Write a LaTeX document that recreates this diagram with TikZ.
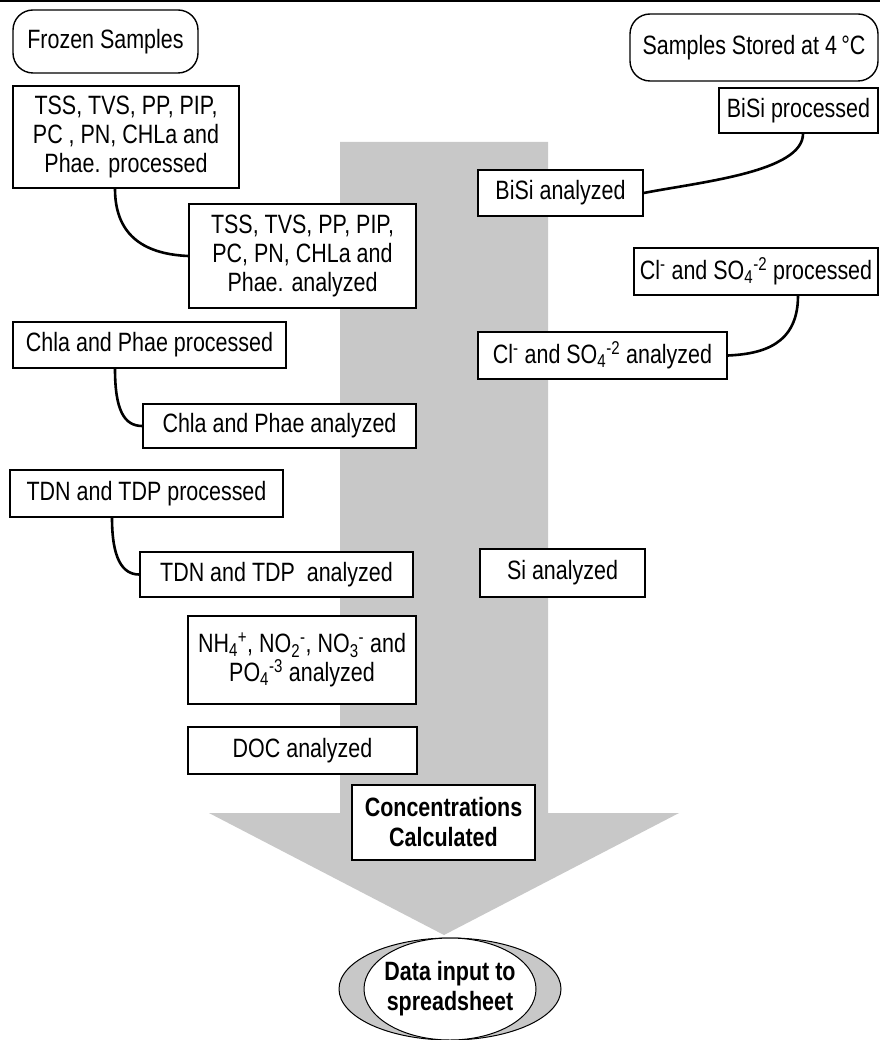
\documentclass[tikz,border=0pt]{standalone}
\usepackage{fontspec}
\setmainfont{Liberation Sans}[FakeStretch=0.81]
\usetikzlibrary{shapes.geometric}
\definecolor{arrowgray}{RGB}{200,200,200}
\tikzset{
  txt/.style={font=\fontsize{26.5}{29}\selectfont, align=center, inner sep=0pt},
  box/.style={txt, draw=black, line width=1.4pt, fill=white},
  startbox/.style={box, rounded corners=20pt},
  boldtxt/.style={font=\fontsize{26.5}{30}\selectfont\bfseries, align=center, inner sep=0pt},
  conn/.style={line width=2.6pt, line cap=round},
}
\begin{document}
\begin{tikzpicture}[x=1pt,y=-1pt]
\useasboundingbox (0,0) rectangle (880,1040);
\fill[white] (0,0) rectangle (880,1040);
\draw[line width=2pt] (0,1.5) -- (880,1.5);
% big gray arrow
\fill[arrowgray] (340,142) -- (548,142) -- (548,813) -- (679,813) -- (444,935) -- (209,813) -- (340,813) -- cycle;

\node[startbox, minimum width=185, minimum height=63] (fs) at (105.5,41.5) {Frozen Samples};
\node[startbox, minimum width=248, minimum height=67] (ss) at (754,47.5) {Samples Stored at 4\,°C};

\node[box, minimum width=226, minimum height=102] (tssp) at (126,137) {TSS, TVS, PP, PIP,\\PC , PN, CHLa and\\Phae. processed};
\node[box, minimum width=159, minimum height=45] (bisip) at (798.5,110.5) {BiSi processed};
\node[box, minimum width=165, minimum height=46] (bisia) at (560.5,193) {BiSi analyzed};
\node[box, minimum width=227, minimum height=104] (tssa) at (302.5,256) {TSS, TVS, PP, PIP,\\PC, PN, CHLa and\\Phae. analyzed};
\node[box, minimum width=244, minimum height=47] (clp) at (756,271.5) {Cl\textsuperscript{-} and SO\textsubscript{4}\textsuperscript{-2} processed};
\node[box, minimum width=249, minimum height=47] (cla) at (602.5,355.5) {Cl\textsuperscript{-} and SO\textsubscript{4}\textsuperscript{-2} analyzed};
\node[box, minimum width=273, minimum height=46] (chlp) at (149.5,345) {Chla and Phae processed};
\node[box, minimum width=273, minimum height=44] (chla) at (279.5,426) {Chla and Phae analyzed};
\node[box, minimum width=273, minimum height=47] (tdnp) at (146.5,493.5) {TDN and TDP processed};
\node[box, minimum width=273, minimum height=45] (tdna) at (276.5,574.5) {TDN and TDP\ \ analyzed};
\node[box, minimum width=165, minimum height=48] (sia) at (562.5,573) {Si analyzed};
\node[box, minimum width=228, minimum height=88] (nh) at (302,660) {NH\textsubscript{4}\textsuperscript{+}, NO\textsubscript{2}\textsuperscript{-}, NO\textsubscript{3}\textsuperscript{-} and\\PO\textsubscript{4}\textsuperscript{-3} analyzed};
\node[box, minimum width=229, minimum height=47] (doc) at (302.5,750.5) {DOC analyzed};
\node[box, boldtxt, minimum width=183, minimum height=75] (conc) at (443.5,822.5) {Concentrations\\Calculated};

% final ellipse
\node[ellipse, draw=black, line width=1pt, fill=arrowgray, minimum width=222, minimum height=102, inner sep=0pt] (eo) at (450,989) {};
\node[ellipse, draw=black, line width=1pt, fill=white, minimum width=172, minimum height=102, inner sep=0pt] (ei) at (450,989) {};
\node[boldtxt] (data) at (eo.center) {Data input to\\spreadsheet};

% connectors
\draw[conn] (tssp.south -| 115,0) .. controls (115,232) and (140,254) .. (tssa.west);
\draw[conn] (bisip.south -| 803,0) .. controls (803,172) and (700,182) .. (bisia.east);
\draw[conn] (clp.south -| 798,0) .. controls (798,345) and (762,354) .. (cla.east);
\draw[conn] (chlp.south -| 115,0) .. controls (115,410) and (124,426) .. (chla.west);
\draw[conn] (tdnp.south -| 112,0) .. controls (112,558) and (122,574.5) .. (tdna.west);
\end{tikzpicture}
\end{document}
